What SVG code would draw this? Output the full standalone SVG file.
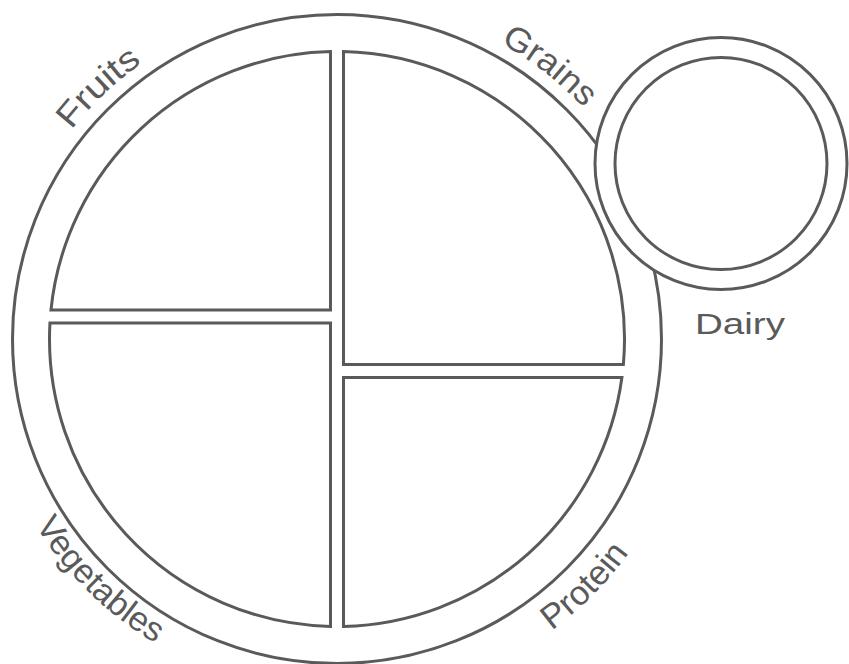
<svg xmlns="http://www.w3.org/2000/svg" width="849" height="664" viewBox="0 0 849 664">
<style>
.ln{fill:#fff;stroke:#5a5a5a;stroke-width:3;stroke-linejoin:miter}
.lbl{font-family:"Liberation Sans",Arial,sans-serif;font-size:30px;fill:#5a5a5a}
.arc{font-size:34px}
</style>
<defs>
<path id="pFruits" d="M 1.17 300.74 A 338 338 0 0 1 316.37 1.63"/>
<path id="pGrains" d="M 324.62 1.23 A 338 338 0 0 1 667.49 268.15"/>
<path id="pVeg" d="M -15.9 372.4 A 354.5 354.5 0 0 0 308.6 692.4"/>
<path id="pProt" d="M 368.8 699.6 A 362 362 0 0 0 697.7 369.9"/>
</defs>
<rect width="849" height="664" fill="#fff"/>
<g id="plate">
<circle class="ln" cx="337" cy="339" r="324.5"/>
</g>
<g id="fruits">
<path class="ln" d="M 330.5 51.57 L 330.5 310 L 50.97 310 A 287.5 287.5 0 0 1 330.5 51.57 Z"/>
<text class="lbl arc"><textPath href="#pFruits" startOffset="50%" text-anchor="middle" textLength="98" lengthAdjust="spacingAndGlyphs">Fruits</textPath></text>
</g>
<g id="grains">
<path class="ln" d="M 343.5 51.57 A 287.5 287.5 0 0 1 623.37 364.5 L 343.5 364.5 Z"/>
<text class="lbl arc"><textPath href="#pGrains" startOffset="50%" text-anchor="middle" textLength="106" lengthAdjust="spacingAndGlyphs">Grains</textPath></text>
</g>
<g id="vegetables">
<path class="ln" d="M 330.5 323 L 49.95 323 A 287.5 287.5 0 0 0 330.5 626.43 Z"/>
<text class="lbl arc"><textPath href="#pVeg" startOffset="50%" text-anchor="middle" textLength="170" lengthAdjust="spacingAndGlyphs">Vegetables</textPath></text>
</g>
<g id="protein">
<path class="ln" d="M 343.5 377.5 L 621.91 377.5 A 287.5 287.5 0 0 1 343.5 626.43 Z"/>
<text class="lbl arc"><textPath href="#pProt" startOffset="50%" text-anchor="middle" textLength="110" lengthAdjust="spacingAndGlyphs">Protein</textPath></text>
</g>
<g id="dairy">
<circle class="ln" cx="721" cy="163.5" r="126"/>
<circle class="ln" cx="721" cy="163.5" r="106"/>
<text class="lbl" x="695" y="334" textLength="90" lengthAdjust="spacingAndGlyphs">Dairy</text>
</g>
</svg>
